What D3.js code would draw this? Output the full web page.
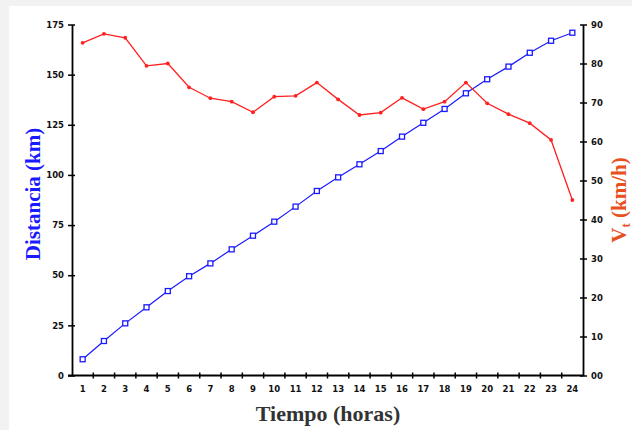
<!DOCTYPE html>
<html>
<head>
<meta charset="utf-8">
<script src="https://cdn.jsdelivr.net/npm/d3@7"></script>
<style>
  html, body { margin: 0; padding: 0; background: #f2f2f2; }
  svg { display: block; }
</style>
</head>
<body>
<svg id="chart" width="632" height="430"></svg>
<script>
// Hours of the trip
const hours = d3.range(1, 25);
// Accumulated distance (km), left axis
const distance = [8.1, 17.2, 26.0, 34.0, 42.1, 49.5, 55.9, 62.9, 69.7, 76.7, 84.2, 92.0,
                  98.8, 105.3, 111.9, 119.1, 126.0, 132.9, 140.7, 147.7, 154.0, 160.9, 166.9, 170.9];
// Speed V_t (km/h), right axis
const speed = [85.3, 87.6, 86.6, 79.4, 80.0, 73.9, 71.1, 70.2, 67.5, 71.5, 71.7, 75.1,
               70.8, 66.8, 67.4, 71.2, 68.3, 70.2, 75.1, 69.8, 67.0, 64.7, 60.4, 45.0];
// Tick labels
const leftTicks = [0, 25, 50, 75, 100, 125, 150, 175];
const rightTicks = [0, 10, 20, 30, 40, 50, 60, 70, 80, 90];
const rightTickLabels = ["00", "10", "20", "30", "40", "50", "60", "70", "80", "90"];

const svg = d3.select("#chart");
svg.append("rect").attr("x", 9).attr("y", 6).attr("width", 623).attr("height", 424).attr("fill", "#ffffff");

const plotLeft = 72, plotRight = 583, plotTop = 24.5, plotBottom = 375.5;

const x = d3.scaleBand().domain(hours).range([plotLeft, plotRight]);
const yL = d3.scaleLinear().domain([0, 175]).range([plotBottom, plotTop]);
const yR = d3.scaleLinear().domain([0, 90]).range([plotBottom, plotTop]);
const cx = h => x(h) + x.bandwidth() / 2;

const tickFont = "'DejaVu Sans', sans-serif";

// Left axis
const gL = svg.append("g").attr("transform", `translate(${plotLeft},0)`)
  .call(d3.axisLeft(yL).tickValues(leftTicks).tickSizeInner(4).tickSizeOuter(0).tickPadding(4));
gL.selectAll(".tick line").attr("x2", -4).attr("x1", 3);

// Right axis
const gR = svg.append("g").attr("transform", `translate(${plotRight},0)`)
  .call(d3.axisRight(yR).tickValues(rightTicks).tickFormat((d, i) => rightTickLabels[i])
    .tickSizeInner(4).tickSizeOuter(0).tickPadding(4));
gR.selectAll(".tick line").attr("x1", -3).attr("x2", 4);

// Bottom axis: labels at hour centres, tick marks at hour boundaries
const gB = svg.append("g").attr("transform", `translate(0,${plotBottom})`)
  .call(d3.axisBottom(x).tickSize(0).tickSizeOuter(0).tickPadding(10));
gB.select(".domain").attr("d", `M${plotLeft - 4},0H${plotRight}`);
gB.selectAll(".boundary").data(hours.slice(1)).enter().append("line")
  .attr("class", "boundary")
  .attr("x1", d => x(d)).attr("x2", d => x(d))
  .attr("y1", -3).attr("y2", 3)
  .attr("stroke", "#000").attr("stroke-width", 1.5);

[gL, gR, gB].forEach(g => {
  g.select(".domain").attr("stroke", "#000").attr("stroke-width", 1.8);
  g.selectAll(".tick line").attr("stroke", "#000").attr("stroke-width", 1.5);
  g.selectAll(".tick text").attr("font-family", tickFont).attr("font-weight", "bold")
    .attr("font-size", 8.5).attr("fill", "#111");
});

// Distance series
svg.append("path").datum(distance)
  .attr("fill", "none").attr("stroke", "#1a1aff").attr("stroke-width", 1.2)
  .attr("d", d3.line().x((d, i) => cx(hours[i])).y(d => yL(d)));
svg.selectAll(".sq").data(distance).enter().append("rect")
  .attr("class", "sq")
  .attr("x", (d, i) => cx(hours[i]) - 2.5).attr("y", d => yL(d) - 2.5)
  .attr("width", 5).attr("height", 5)
  .attr("fill", "#ffffff").attr("stroke", "#1a1aff").attr("stroke-width", 1.3);

// Speed series
svg.append("path").datum(speed)
  .attr("fill", "none").attr("stroke", "#ff2020").attr("stroke-width", 1.3)
  .attr("d", d3.line().x((d, i) => cx(hours[i])).y(d => yR(d)));
svg.selectAll(".dot").data(speed).enter().append("circle")
  .attr("class", "dot")
  .attr("cx", (d, i) => cx(hours[i])).attr("cy", d => yR(d))
  .attr("r", 1.9).attr("fill", "#ff2020");

// Axis titles
const titleFont = "'Liberation Serif', 'Times New Roman', serif";
svg.append("text")
  .attr("transform", "translate(40,194) rotate(-90)")
  .attr("text-anchor", "middle").attr("font-family", titleFont)
  .attr("font-weight", "bold").attr("font-size", 21).attr("fill", "#1a1aff")
  .text("Distancia (km)");

const rt = svg.append("text")
  .attr("transform", "translate(626,200) rotate(-90)")
  .attr("text-anchor", "middle").attr("font-family", titleFont)
  .attr("font-weight", "bold").attr("font-size", 21).attr("fill", "#e8501e");
rt.append("tspan").text("V");
rt.append("tspan").attr("font-size", 13).attr("dy", 4).text("t");
rt.append("tspan").attr("dy", -4).text(" (km/h)");

svg.append("text")
  .attr("x", 328).attr("y", 421)
  .attr("text-anchor", "middle").attr("font-family", titleFont)
  .attr("font-weight", "bold").attr("font-size", 22).attr("fill", "#333333")
  .text("Tiempo (horas)");
</script>
</body>
</html>
